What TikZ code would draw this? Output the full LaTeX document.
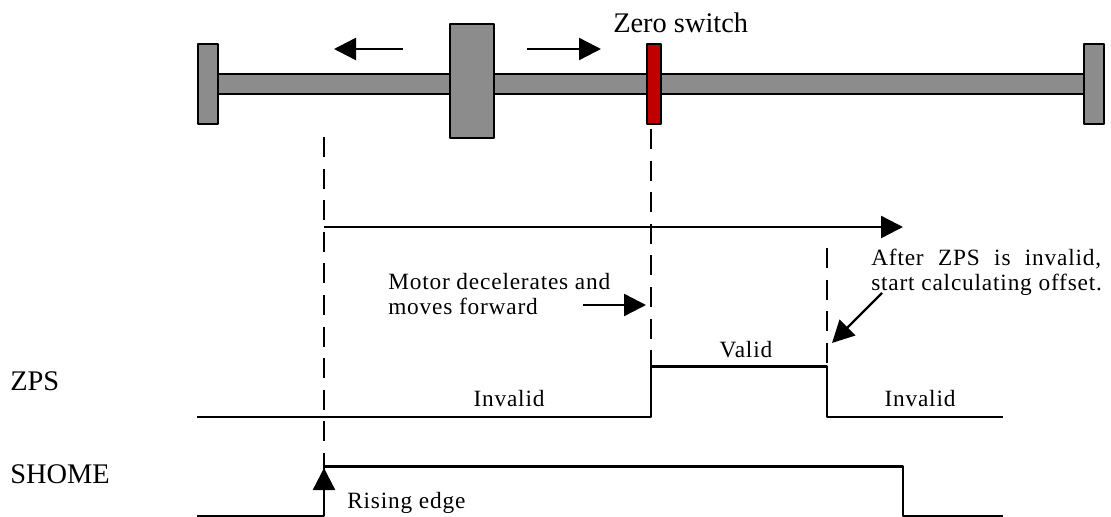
\documentclass[tikz,border=0pt]{standalone}
\usepackage{fontspec}
\setmainfont{Liberation Serif}
\newfontfamily\spaced[LetterSpace=3.5]{Liberation Serif}
\usetikzlibrary{arrows.meta}
\begin{document}
\begin{tikzpicture}[x=0.75pt,y=-0.75pt,line join=round,
	part/.style={draw=black,line width=1.8pt,fill=black!45},
	signal/.style={line width=1.8pt},
	guide/.style={line width=1.6pt,dash pattern=on 15pt off 8.7pt},
	pointer/.style={line width=1.8pt,-{Triangle[length=16.5pt,width=16.5pt]}},
	small/.style={font=\fontsize{17.5}{18.75}\spaced,inner sep=0pt},
	big/.style={font=\fontsize{21.3}{24}\selectfont,inner sep=0pt}]
	\useasboundingbox (0,0) rectangle (1111,517);
	% rail and carriage
	\draw[part] (218,74) rectangle (1084,94);
	\draw[part] (198,44) rectangle (218,124);
	\draw[part] (1084,44) rectangle (1104,124);
	\draw[part] (450,24) rectangle (494,138);
	\draw[part,fill={rgb,255:red,192;green,0;blue,0}] (647,44) rectangle (661,124);
	\node[big,anchor=base west] (zeroswitch) at (613,33) {Zero switch};
	\coordinate (leftS) at (403,49); \coordinate (leftE) at (334,49);
	\coordinate (rightS) at (527,49); \coordinate (rightE) at (601,49);
	\draw[pointer] (leftS)--(leftE);
	\draw[pointer] (rightS)--(rightE);
	% guide lines
	\coordinate (homeT) at (324,137); \coordinate (homeB) at (324,466);
	\coordinate (zpsT) at (651,129); \coordinate (zpsB) at (651,366);
	\coordinate (offT) at (827,248); \coordinate (offB) at (827,366);
	\draw[guide] (homeT)--(homeB);
	\draw[guide] (zpsT)--(zpsB);
	\draw[guide] (offT)--(offB);
	% motion
	\coordinate (moveS) at (324,227); \coordinate (moveE) at (903,227);
	\draw[pointer] (moveS)--(moveE);
	\node[small,anchor=base west,align=left] (motor) at (388,314) {Motor decelerates and\\moves forward};
	\coordinate (motorS) at (583,305); \coordinate (motorE) at (646,305);
	\draw[pointer] (motorS)--(motorE);
	\node[small,anchor=base west,align=left] (after) at (871,290) {\hbox to 172.5pt{After\hfill ZPS\hfill is\hfill invalid,}\\start calculating offset.};
	\coordinate (afterS) at (882,293); \coordinate (afterE) at (832,343);
	\draw[pointer] (afterS)--(afterE);
	% ZPS
	\node[big,anchor=base west] (zps) at (10,390) {ZPS};
	\draw[signal] (197,417)--(651,417)--(651,366.5)--(827,366.5)--(827,417)--(1003,417);
	\node[small,anchor=base] (inv1) at (509,406) {Invalid};
	\node[small,anchor=base] (valid) at (746,357) {Valid};
	\node[small,anchor=base] (inv2) at (920,406) {Invalid};
	% SHOME
	\node[big,anchor=base west] (shome) at (10,483) {SHOME};
	\draw[signal] (197,516)--(324,516)--(324,466.5)--(903,466.5)--(903,516)--(1003,516);
	\coordinate (riseS) at (324,516); \coordinate (riseE) at (324,468);
	\draw[pointer] (riseS)--(riseE);
	\node[small,anchor=base west] (rising) at (347,508) {Rising edge};
\end{tikzpicture}
\end{document}
